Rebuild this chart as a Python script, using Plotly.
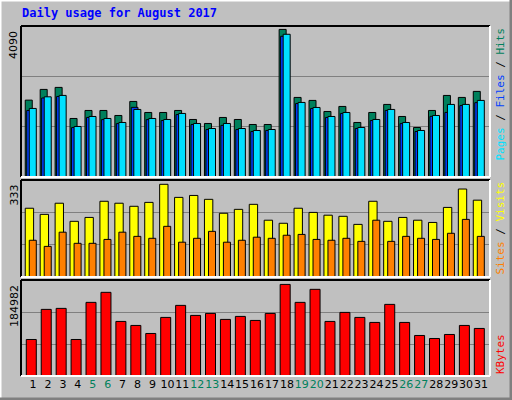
import plotly.graph_objects as go

days = list(range(1, 32))
hits = [2130, 2427, 2483, 1622, 1844, 1844, 1705, 2094, 1788, 1788, 1844, 1594, 1483, 1650, 1594, 1455,
        1455, 4090, 2205, 2122, 1816, 1955, 1511, 1788, 2011, 1677, 1372, 1844, 2260, 2205, 2372]
pages = [1900, 2222, 2261, 1400, 1677, 1622, 1511, 1872, 1622, 1594, 1761, 1483, 1344, 1483, 1344, 1289,
         1316, 3955, 2066, 1927, 1677, 1788, 1372, 1594, 1872, 1511, 1289, 1705, 2011, 2011, 2122]
files = [1844, 2190, 2230, 1370, 1650, 1590, 1480, 1930, 1590, 1565, 1730, 1455, 1315, 1430, 1315, 1260,
         1290, 3900, 2035, 1900, 1650, 1760, 1345, 1565, 1845, 1480, 1260, 1680, 1790, 1980, 2060]
visits = [247, 225, 265, 200, 214, 272, 265, 254, 268, 333, 286, 293, 279, 229, 243, 261,
          204, 193, 247, 232, 222, 218, 189, 272, 200, 214, 204, 196, 250, 316, 276]
sites = [132, 110, 161, 121, 121, 135, 161, 146, 139, 182, 125, 139, 164, 125, 132, 143,
         139, 150, 153, 135, 132, 139, 128, 204, 128, 146, 139, 135, 157, 207, 146]
kbytes = [73750, 134530, 136550, 73750, 148710, 168970, 110210, 102110, 85900, 118320, 142630,
          122370, 126420, 114270, 120340, 112240, 126420, 184982, 148710, 175050, 110210, 128450,
          118320, 108190, 144660, 108190, 81850, 75770, 83880, 102110, 96030]
weekends = [5, 6, 12, 13, 19, 20, 26, 27]

GREEN, BLUE, CYAN = "#00805C", "#0040FF", "#00E0FF"
YEL, ORA, RED = "#FFFF00", "#FF8000", "#FF0000"
BG = "#C0C0C0"

fig = go.Figure()
def bar(y, color, off, w, ax):
    fig.add_trace(go.Bar(x=days, y=y, marker=dict(color=color, line=dict(color="black", width=1)),
                         offset=off, width=w, xaxis="x" + ax if ax else "x", yaxis="y" + ax if ax else "y",
                         showlegend=False, hoverinfo="skip"))

bar(hits, GREEN, -0.52, 0.47, "3")
bar(files, BLUE, -0.42, 0.45, "3")
bar(pages, CYAN, -0.25, 0.47, "3")
bar(visits, YEL, -0.52, 0.56, "2")
bar(sites, ORA, -0.25, 0.47, "2")
bar(kbytes, RED, -0.45, 0.67, "")

xr = [0.196, 31.6]
xd = [21 / 512, 490 / 512]
tops = {"3": max(hits) * 150.7 / 147.3, "2": max(visits) * 97 / 92.7, "": max(kbytes) * 95.7 / 91.3}
doms = {"3": [1 - 177 / 400, 1 - 26 / 400], "2": [1 - 277 / 400, 1 - 180 / 400], "": [1 - 376 / 400, 1 - 280 / 400]}

ticktext = [f"<span style='color:{GREEN if d in weekends else 'black'}'>{d}</span>" for d in days]
lay = dict(barmode="overlay", width=512, height=400, margin=dict(l=0, r=0, t=0, b=0),
           paper_bgcolor=BG, plot_bgcolor=BG, font=dict(family="DejaVu Sans", size=11, color="black"))
for ax in ["", "2", "3"]:
    lay["xaxis" + ax] = dict(domain=xd, range=xr, showgrid=False, zeroline=False, fixedrange=True,
                             tickvals=days if ax == "" else [], ticktext=ticktext if ax == "" else None,
                             ticks="", showticklabels=(ax == ""), tickfont=dict(size=11), tickangle=0,
                             anchor="y" + ax if ax else "y")
    top = tops[ax]
    lay["yaxis" + ax] = dict(domain=doms[ax], range=[0, top], tickvals=[top / 3, 2 * top / 3],
                             showticklabels=False, ticks="", gridcolor="#808080", gridwidth=1,
                             zeroline=False, anchor="x" + ax if ax else "x")
fig.update_layout(**lay)

shapes = []
shapes.append(dict(type="line", xref="paper", yref="paper", x0=0, x1=1, y0=1, y1=1, line=dict(color="white", width=3)))
shapes.append(dict(type="line", xref="paper", yref="paper", x0=0, x1=0, y0=0, y1=1, line=dict(color="white", width=3)))
shapes.append(dict(type="line", xref="paper", yref="paper", x0=0, x1=1, y0=0, y1=0, line=dict(color="#808080", width=5)))
shapes.append(dict(type="line", xref="paper", yref="paper", x0=1, x1=1, y0=0, y1=1, line=dict(color="#808080", width=5)))
for ax in ["3", "2", ""]:
    y0, y1 = doms[ax]
    x0, x1 = xd
    shapes += [dict(type="line", xref="paper", yref="paper", x0=x0, x1=x1, y0=y1, y1=y1, line=dict(color="black", width=2)),
               dict(type="line", xref="paper", yref="paper", x0=x0, x1=x0, y0=y0, y1=y1, line=dict(color="black", width=2)),
               dict(type="line", xref="paper", yref="paper", x0=x0, x1=x1, y0=y0, y1=y0, line=dict(color="white", width=2)),
               dict(type="line", xref="paper", yref="paper", x0=x1, x1=x1, y0=y0, y1=y1, line=dict(color="white", width=2))]
fig.update_layout(shapes=shapes)

mono = "DejaVu Sans Mono"
ann = [dict(text="<b>Daily usage for August 2017</b>", x=20 / 512, y=1 - 13 / 400, xanchor="left", yanchor="middle",
            font=dict(family=mono, size=12, color="#0000FF"))]
for ax, lbl in [("3", "4090"), ("2", "333"), ("", "184982")]:
    ann.append(dict(text=lbl, x=14 / 512, y=doms[ax][1] - 3 / 400, xanchor="center", yanchor="top",
                    textangle=-90, font=dict(family="DejaVu Sans", size=11, color="black")))
sl = "<span style='color:black'> / </span>"
ann.append(dict(text=f"<span style='color:{CYAN}'>Pages</span>{sl}<span style='color:{BLUE}'>Files</span>{sl}<span style='color:{GREEN}'>Hits</span>",
                x=500 / 512, y=doms["3"][1], xanchor="center", yanchor="top", textangle=-90, font=dict(family=mono, size=11)))
ann.append(dict(text=f"<span style='color:{ORA}'>Sites</span>{sl}<span style='color:{YEL}'>Visits</span>",
                x=500 / 512, y=doms["2"][1], xanchor="center", yanchor="top", textangle=-90, font=dict(family=mono, size=11)))
ann.append(dict(text=f"<span style='color:{RED}'>KBytes</span>",
                x=500 / 512, y=doms[""][0], xanchor="center", yanchor="bottom", textangle=-90, font=dict(family=mono, size=11)))
for a in ann:
    a.update(xref="paper", yref="paper", showarrow=False)
fig.update_layout(annotations=ann)

fig.write_html("out.html", config={"displayModeBar": False})
with open("out.html", encoding="utf-8") as f:
    html = f.read()
html = html.replace("<head>", "<head><style>html,body{margin:0;padding:0;overflow:hidden;}</style>", 1)
with open("out.html", "w", encoding="utf-8") as f:
    f.write(html)
